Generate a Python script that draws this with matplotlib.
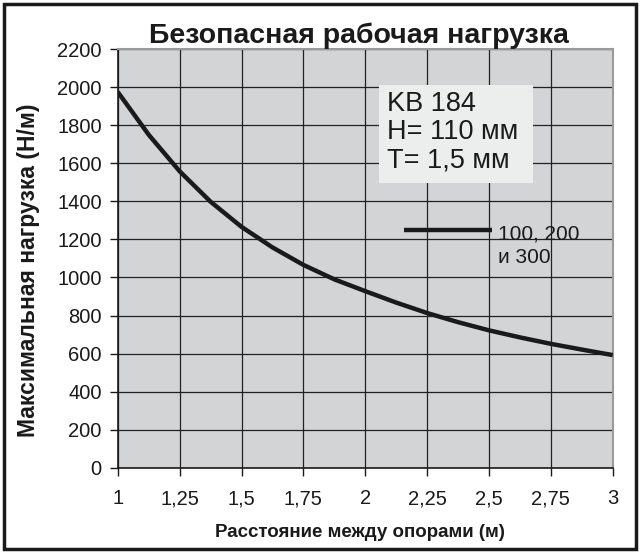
import matplotlib
matplotlib.use('Agg')
import matplotlib.pyplot as plt
from matplotlib.patches import Rectangle

plt.rcParams['font.family'] = ['Liberation Sans', 'DejaVu Sans']

# span between supports (m) and safe working load (N/m)
span = [1.0, 1.125, 1.25, 1.375, 1.5, 1.625, 1.75, 1.875, 2.0,
        2.125, 2.25, 2.375, 2.5, 2.625, 2.75, 2.875, 3.0]
load = [1975, 1750, 1558, 1398, 1266, 1158, 1066, 990, 928,
        868, 813, 765, 722, 685, 651, 621, 592]

xticks = [1, 1.25, 1.5, 1.75, 2, 2.25, 2.5, 2.75, 3]
xticklabels = ['1', '1,25', '1,5', '1,75', '2', '2,25', '2,5', '2,75', '3']
yticks = list(range(0, 2201, 200))

info = 'KB 184\nH= 110 мм\nT= 1,5 мм'
series_label = '100, 200\nи 300'

fig = plt.figure(figsize=(6.4, 5.53), dpi=100)
ax = fig.add_axes([0.184, 0.1542, 0.7734, 0.757])
ax.set_facecolor('#d3d4d6')

ax.plot(span, load, color='#1a1a1a', lw=3.2, solid_capstyle='butt',
        solid_joinstyle='round', zorder=3)

ax.set_xlim(1, 3)
ax.set_ylim(0, 2200)
ax.set_xticks(xticks)
ax.set_xticklabels(xticklabels)
ax.set_yticks(yticks)
ax.grid(True, color='#222222', lw=0.9)
ax.set_axisbelow(True)
ax.tick_params(axis='both', labelsize=14.5, colors='#1a1a1a', length=5.5, width=1)
ax.tick_params(axis='x', pad=10)
ax.tick_params(axis='y', pad=6)
for s in ['top', 'right']:
    ax.spines[s].set_color('#9a9a9a')
    ax.spines[s].set_linewidth(1.5)
for s in ['left', 'bottom']:
    ax.spines[s].set_color('#1a1a1a')
    ax.spines[s].set_linewidth(1.2)

ax.set_title('Безопасная рабочая нагрузка', fontsize=20.5, fontweight='bold',
             color='#1a1a1a', pad=4, x=0.488)
ax.set_xlabel('Расстояние между опорами (м)', fontsize=13.5, fontweight='bold',
              color='#1a1a1a', labelpad=10)
ax.xaxis.set_label_coords(0.49, -0.135)
ax.set_ylabel('Максимальная нагрузка (Н/м)', fontsize=16.5, fontweight='bold',
              color='#1a1a1a')
ax.yaxis.set_label_coords(-0.157, 0.472)

# info box
ax.add_patch(Rectangle((0.528, 0.6795), 0.311, 0.2345, transform=ax.transAxes,
                       facecolor='#eceeee', edgecolor='none', zorder=1))
ax.text(0.5434, 0.8997, info, transform=ax.transAxes, fontsize=19.5,
        color='#1a1a1a', va='top', ha='left', linespacing=1.11, zorder=4)

# legend line + label
ax.plot([0.579, 0.7554], [0.5677, 0.5677], transform=ax.transAxes,
        color='#1a1a1a', lw=3.2, solid_capstyle='butt', zorder=4)
ax.text(0.7683, 0.489, series_label, transform=ax.transAxes, fontsize=15,
        color='#1a1a1a', va='baseline', ha='left', linespacing=1.28, zorder=4)

fig.patches.append(Rectangle((0.00625, 0.0072), 0.9875, 0.9855,
                             transform=fig.transFigure, fill=False,
                             edgecolor='#1a1a1a', lw=2.5))

fig.savefig('out.png', dpi=100)
